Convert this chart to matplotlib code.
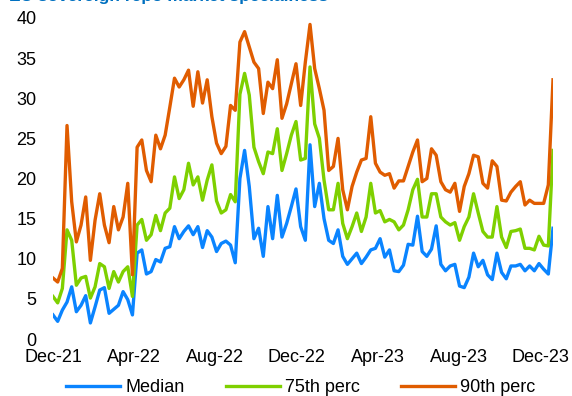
import matplotlib
matplotlib.use("Agg")
import matplotlib.pyplot as plt
import matplotlib.dates as mdates
import pandas as pd

plt.rcParams['font.family'] = ['Liberation Sans', 'DejaVu Sans']

# Weekly observations, 1 Dec 2021 to 20 Dec 2023
start_date = "2021-12-01"

median = [3.0, 2.2, 3.6, 4.6, 6.5, 3.4, 4.2, 5.4, 2.0, 4.0,
          6.1, 6.4, 3.2, 3.7, 4.2, 5.9, 4.9, 3.0, 10.7, 11.1,
          8.1, 8.4, 9.9, 9.6, 11.3, 11.5, 14.0, 12.5, 13.4, 14.1,
          13.0, 14.0, 11.4, 13.5, 12.7, 10.9, 11.9, 12.2, 11.7, 9.5,
          20.0, 23.5, 19.0, 12.5, 13.8, 10.3, 16.5, 12.5, 17.9, 12.7,
          14.4, 16.5, 18.7, 14.0, 12.3, 24.2, 16.5, 19.4, 15.0, 12.3,
          11.9, 13.6, 10.3, 9.3, 10.0, 10.7, 9.4, 10.2, 11.1, 11.3,
          12.5, 10.2, 11.1, 8.5, 8.4, 9.2, 11.8, 11.7, 15.3, 10.9,
          10.3, 11.2, 14.1, 9.3, 8.5, 9.1, 9.3, 6.6, 6.4, 7.7,
          10.7, 9.0, 9.8, 8.0, 7.4, 10.7, 8.3, 7.5, 9.1, 9.1,
          9.3, 8.5, 9.1, 8.5, 9.4, 8.7, 8.1, 13.8]

perc75 = [5.3, 4.5, 6.3, 13.6, 12.3, 6.7, 7.6, 7.8, 5.1, 6.5,
          9.4, 9.0, 6.3, 8.4, 7.1, 8.4, 9.0, 5.3, 14.2, 14.9,
          12.3, 13.0, 15.4, 13.5, 15.7, 16.3, 20.2, 17.5, 18.6, 21.9,
          19.2, 20.2, 17.3, 19.8, 21.7, 17.2, 15.7, 16.1, 18.0, 17.1,
          30.5, 33.1, 30.4, 23.9, 22.1, 20.6, 23.3, 23.1, 26.2, 21.0,
          23.1, 25.4, 27.1, 22.3, 22.5, 33.9, 26.8, 25.0, 19.8, 16.1,
          16.1, 19.4, 14.4, 12.5, 14.0, 15.7, 13.4, 15.2, 19.4, 15.7,
          16.0, 14.6, 14.9, 14.6, 13.6, 14.2, 16.1, 18.6, 19.9, 15.2,
          15.2, 18.1, 18.1, 15.2, 14.6, 14.2, 14.5, 12.3, 14.0, 15.2,
          18.1, 15.7, 13.4, 12.7, 12.7, 16.5, 12.7, 11.4, 13.4, 13.5,
          13.7, 11.3, 11.3, 11.1, 12.8, 11.7, 11.6, 23.5]

perc90 = [7.6, 7.1, 8.8, 26.6, 17.1, 12.1, 14.2, 17.7, 9.8, 14.8,
          18.1, 14.2, 12.0, 16.5, 13.6, 15.2, 19.4, 8.0, 23.9, 24.8,
          21.0, 19.6, 25.4, 23.7, 25.4, 28.9, 32.5, 31.4, 32.3, 33.5,
          29.0, 33.3, 29.4, 32.3, 27.7, 24.4, 23.1, 24.0, 29.1, 28.5,
          37.0, 38.3, 36.4, 34.5, 33.7, 28.1, 32.0, 31.2, 34.8, 27.5,
          29.3, 31.8, 34.3, 29.1, 34.5, 39.2, 33.7, 31.2, 28.5, 21.0,
          21.5, 25.0, 18.6, 16.1, 19.0, 20.8, 22.3, 22.5, 27.7, 21.9,
          20.8, 20.4, 20.6, 18.8, 19.7, 19.7, 21.5, 23.3, 24.8, 19.6,
          20.0, 23.7, 22.9, 19.6, 18.6, 18.3, 19.4, 15.9, 19.0, 20.6,
          22.9, 22.7, 19.4, 18.8, 22.2, 21.5, 17.3, 17.2, 18.3, 19.0,
          19.6, 16.7, 17.3, 16.9, 16.9, 16.9, 19.2, 32.3]

series_labels = ["Median", "75th perc", "90th perc"]
series_colors = ["#0A84FF", "#7ED000", "#E05C00"]
tick_dates = ["2021-12-01", "2022-04-01", "2022-08-01", "2022-12-01",
              "2023-04-01", "2023-08-01", "2023-12-01"]
yticks = [0, 5, 10, 15, 20, 25, 30, 35, 40]

dates = pd.date_range(start_date, periods=len(median), freq="7D")

fig = plt.figure(figsize=(5.72, 3.96), dpi=100)
ax = fig.add_axes([53 / 572, 1 - 339 / 396, 500 / 572, 321 / 396])

for vals, lab, col in zip([median, perc75, perc90], series_labels, series_colors):
    ax.plot(dates, vals, color=col, lw=2.4, label=lab, solid_joinstyle="round")

ax.set_xlim(dates[0], dates[-1])
ax.set_ylim(0, 40)
ax.set_yticks(yticks)
ax.set_xticks(pd.to_datetime(tick_dates))
ax.xaxis.set_major_formatter(mdates.DateFormatter("%b-%y"))
for s in ax.spines.values():
    s.set_visible(False)
ax.tick_params(axis="both", length=0, labelsize=13, colors="black")
ax.tick_params(axis="y", pad=12)
ax.tick_params(axis="x", pad=7)

fig.text(9 / 572, 1 - 1 / 396, "EU sovereign repo market specialness",
         color="#0070C0", fontsize=12.5, fontweight="bold", va="baseline", ha="left")

fig.legend(loc="center", bbox_to_anchor=(0.526, 1 - 388 / 396), ncol=3, frameon=False,
           fontsize=13, handlelength=3.0, handletextpad=0.3, columnspacing=2.25)

fig.savefig("out.png", dpi=100)
